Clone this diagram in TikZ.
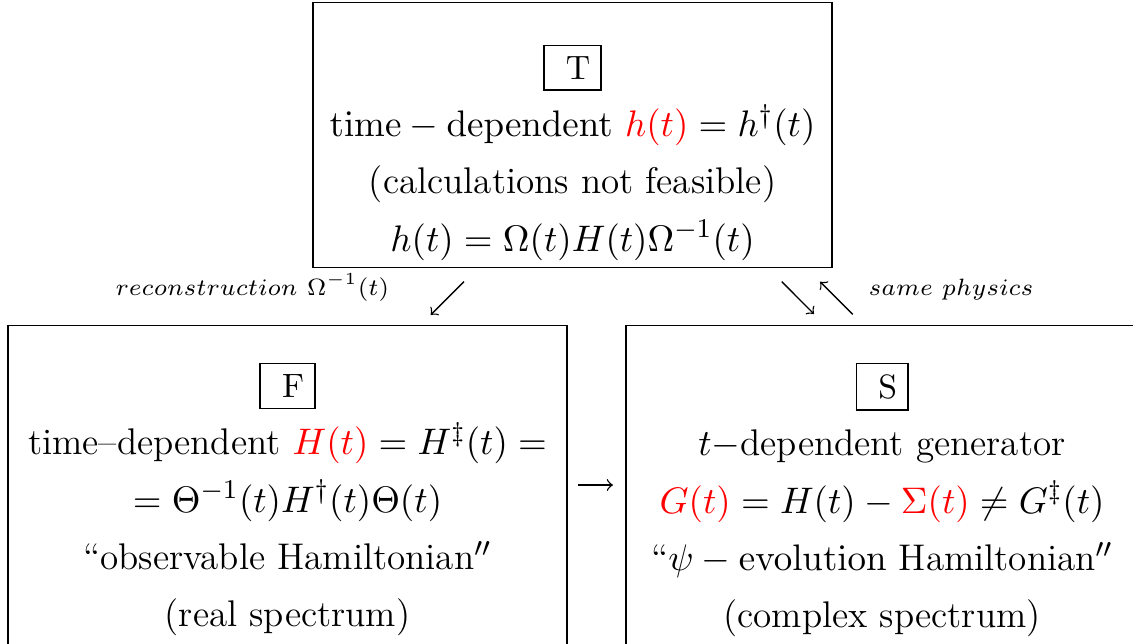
\documentclass[tikz,border=0pt]{standalone}
\usepackage{amsmath,amssymb}
\usetikzlibrary{positioning}
\newcommand{\boxlab}[1]{{\fontsize{10}{12}\selectfont\fbox{\ #1}}}

\begin{document}
\begin{tikzpicture}[>=to, bigbox/.style={draw, inner sep=0pt}, boxtext/.style={align=center, inner sep=0pt, font=\fontsize{11}{17}\selectfont}, note/.style={font=\fontsize{7.2}{9}\selectfont, inner sep=0pt}]
	\useasboundingbox (0,0) rectangle (11.802,6.708);
	\clip (0,0) rectangle (11.802,6.708);
	% the three pictures
	\node[bigbox, minimum width=5.406cm, minimum height=2.760cm, anchor=north] (T) at (5.964,6.688) {};
	\node[bigbox, minimum width=5.823cm, minimum height=3.6cm, anchor=north] (F) at (2.995,3.323) {};
	\node[bigbox, minimum width=5.333cm, minimum height=3.6cm, anchor=north] (S) at (9.188,3.323) {};
	\node[boxtext, below=0.44cm of T.north] (Ttext) {\boxlab{T}\\ $\mathrm{time}-\mathrm{dependent}\ \textcolor{red}{h(t)}=h^{\dagger}(t)$\\ (calculations not feasible)\\ $h(t)=\Omega(t)H(t)\Omega^{-1}(t)$};
	\node[boxtext, below=0.39cm of F.north] (Ftext) {\boxlab{F}\\ time--dependent $\textcolor{red}{H(t)}=H^{\ddagger}(t)=$\\ $=\Theta^{-1}(t)H^{\dagger}(t)\Theta(t)$\\ ``observable Hamiltonian$''$\\ (real spectrum)};
	\node[boxtext, below=0.39cm of S.north] (Stext) {\boxlab{S}\\ $t-$dependent generator\\ $\textcolor{red}{G(t)}=H(t)-\textcolor{red}{\Sigma(t)}\neq G^{\ddagger}(t)$\\ ``$\psi-\mathrm{evolution}$ Hamiltonian$''$\\ (complex spectrum)};
	% maps between them
	\coordinate (recA) at (4.833,3.774);
	\coordinate (recB) at (4.486,3.427);
	\coordinate (phyA) at (8.143,3.774);
	\coordinate (phyB) at (8.479,3.437);
	\coordinate (phyC) at (8.882,3.434);
	\coordinate (phyD) at (8.542,3.774);
	\coordinate (fsA) at (6.021,1.656);
	\coordinate (fsB) at (6.385,1.656);
	\draw[->] (recA) -- (recB);
	\draw[->] (phyA) -- (phyB);
	\draw[->] (phyC) -- (phyD);
	\draw[->] (fsA) -- (fsB);
	\node[note, anchor=base west] (rec) at (1.198,3.635) {$reconstruction\ \Omega^{-1}(t)$};
	\node[note, anchor=base west] (phy) at (9.042,3.635) {$same\ physics$};
\end{tikzpicture}
\end{document}
